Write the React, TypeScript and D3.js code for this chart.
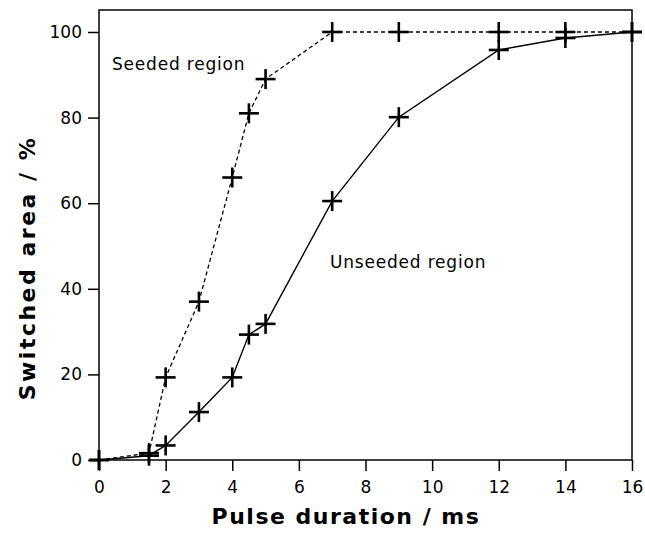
import React, { useRef, useEffect } from "react";
import * as d3 from "d3";

// pulse durations (ms) and switched area (%)
const durations = [0, 1.5, 2, 3, 4, 4.5, 5, 7, 9, 12, 14, 16];
const seeded = [0, 1.6, 19.3, 37, 66, 81, 89, 100, 100, 100, 100, 100];
const unseeded = [0, 1, 3.4, 11.2, 19.3, 29.3, 31.8, 60.5, 80.1, 95.8, 98.6, 100];

const xTicks = [0, 2, 4, 6, 8, 10, 12, 14, 16];
const yTicks = [0, 20, 40, 60, 80, 100];

const W = 645;
const H = 536;
const margin = { left: 99, right: 13, top: 10, bottom: 76 };
const FONT = "'DejaVu Sans', sans-serif";

const App = () => {
  const svgRef = useRef<SVGSVGElement>(null);

  useEffect(() => {
    const svg = d3.select(svgRef.current);
    svg.selectAll("*").remove();

    const x = d3.scaleLinear().domain([0, 16]).range([margin.left, W - margin.right]);
    const y = d3.scaleLinear().domain([0, 100]).range([H - margin.bottom, 32]);

    // frame
    svg
      .append("rect")
      .attr("x", x(0))
      .attr("y", margin.top)
      .attr("width", x(16) - x(0))
      .attr("height", y(0) - margin.top)
      .attr("fill", "none")
      .attr("stroke", "#000")
      .attr("stroke-width", 1.5);

    const xAxis = svg
      .append("g")
      .attr("transform", `translate(0,${y(0)})`)
      .call(d3.axisBottom(x).tickValues(xTicks).tickSize(11).tickPadding(10).tickSizeOuter(0));
    xAxis.select(".domain").remove();
    xAxis.selectAll("line").attr("stroke-width", 1.5);
    xAxis.selectAll("text").attr("font-family", FONT).attr("font-size", 17).attr("fill", "#000");

    const yAxis = svg
      .append("g")
      .attr("transform", `translate(${x(0)},0)`)
      .call(d3.axisLeft(y).tickValues(yTicks).tickSize(11).tickPadding(6).tickSizeOuter(0));
    yAxis.select(".domain").remove();
    yAxis.selectAll("line").attr("stroke-width", 1.5);
    yAxis.selectAll("text").attr("font-family", FONT).attr("font-size", 17).attr("fill", "#000");

    const line = d3
      .line<number>()
      .x((_, i) => x(durations[i]))
      .y((d) => y(d));

    svg
      .append("path")
      .datum(seeded)
      .attr("d", line)
      .attr("fill", "none")
      .attr("stroke", "#000")
      .attr("stroke-width", 1.3)
      .attr("stroke-dasharray", "4,3");

    svg
      .append("path")
      .datum(unseeded)
      .attr("d", line)
      .attr("fill", "none")
      .attr("stroke", "#000")
      .attr("stroke-width", 1.4);

    const plus = (vals: number[]) => {
      const g = svg.append("g").attr("stroke", "#000").attr("stroke-width", 2.6);
      vals.forEach((v, i) => {
        const cx = x(durations[i]);
        const cy = y(v);
        g.append("line").attr("x1", cx - 10).attr("x2", cx + 10).attr("y1", cy).attr("y2", cy);
        g.append("line").attr("x1", cx).attr("x2", cx).attr("y1", cy - 10).attr("y2", cy + 10);
      });
    };
    plus(seeded);
    plus(unseeded);

    svg
      .append("text")
      .attr("x", 112)
      .attr("y", 70)
      .attr("font-family", FONT)
      .attr("font-size", 17)
      .attr("letter-spacing", 0.8)
      .text("Seeded region");

    svg
      .append("text")
      .attr("x", 330)
      .attr("y", 268)
      .attr("font-family", FONT)
      .attr("font-size", 17)
      .attr("letter-spacing", 0.8)
      .text("Unseeded region");

    svg
      .append("text")
      .attr("x", 346)
      .attr("y", 524)
      .attr("text-anchor", "middle")
      .attr("font-family", FONT)
      .attr("font-weight", "bold")
      .attr("font-size", 22)
      .attr("letter-spacing", 1.5)
      .text("Pulse duration / ms");

    svg
      .append("text")
      .attr("transform", `translate(35,268) rotate(-90)`)
      .attr("text-anchor", "middle")
      .attr("font-family", FONT)
      .attr("font-weight", "bold")
      .attr("font-size", 22)
      .attr("letter-spacing", 2.5)
      .text("Switched area / %");
  }, []);

  return (
    <svg
      ref={svgRef}
      width={W}
      height={H}
      style={{ position: "absolute", left: 0, top: 0, display: "block", background: "#fff" }}
    />
  );
};

export default App;
